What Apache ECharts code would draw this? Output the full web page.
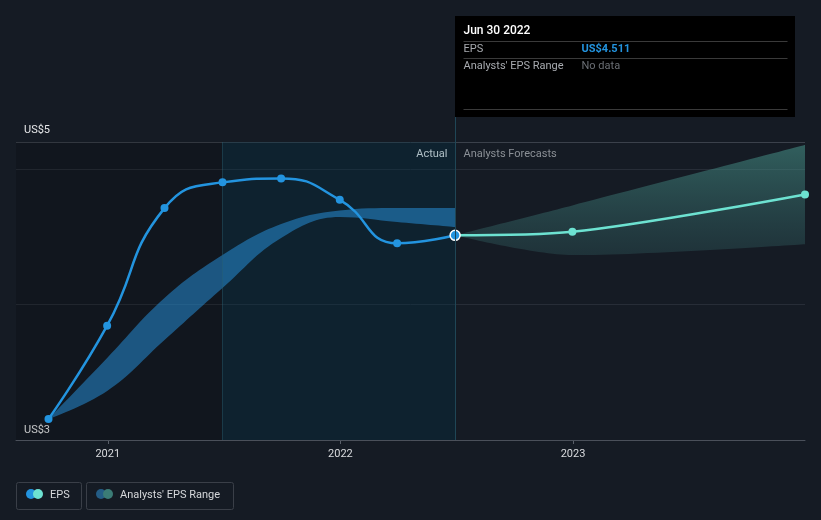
<!DOCTYPE html>
<html>
<head>
<meta charset="utf-8">
<script src="https://cdn.jsdelivr.net/npm/echarts@6/dist/echarts.min.js"></script>
<style>
  html, body { margin: 0; padding: 0; background: #151b24; }
  #chart { width: 821px; height: 520px; }
</style>
</head>
<body>
<div id="chart"></div>
<script>
// past quarters (reported EPS + range of past analyst estimates)
const actualDates = ["2020-09-30", "2020-12-31", "2021-03-31", "2021-06-30", "2021-09-30", "2021-12-31", "2022-03-31", "2022-06-30"];
const epsActual = [3.155, 3.844, 4.712, 4.902, 4.931, 4.773, 4.452, 4.511];
const pastRangeLow = [3.155, 3.362, 3.738, 4.122, 4.491, 4.646, 4.609, 4.572];
const pastRangeHigh = [3.155, 3.605, 4.048, 4.365, 4.594, 4.694, 4.712, 4.712];

// analyst forecasts
const forecastDates = ["2022-06-30", "2022-12-31", "2023-12-31"];
const epsForecast = [4.511, 4.537, 4.813];
const forecastLow = [4.511, 4.365, 4.446];
const forecastHigh = [4.511, 4.732, 5.177];

const yearTicks = ["2021-01-01", "2022-01-01", "2023-01-01"];
const axisStart = "2020-08-10";
const axisEnd = "2023-12-31";
const lastActual = "2022-06-30";
const ltmStart = "2021-06-30";

const FONT = "Roboto, 'Noto Sans', sans-serif";
const BLUE = "#2394df";
const AQUA = "#6de2d1";

const toTime = (s) => {
  const [y, m, d] = s.split("-").map(Number);
  return new Date(y, m - 1, d).getTime();
};
const pairs = (dates, vals) => dates.map((d, i) => [toTime(d), vals[i]]);
const diffs = (dates, hi, lo) => dates.map((d, i) => [toTime(d), +(hi[i] - lo[i]).toFixed(4)]);
const yearStarts = yearTicks.map(toTime);

const chart = echarts.init(document.getElementById("chart"));

const bandBase = {
  type: "line",
  smooth: 0.4,
  symbol: "none",
  lineStyle: { opacity: 0 },
  silent: true,
};

chart.setOption({
  backgroundColor: "#151b24",
  animation: false,
  textStyle: { fontFamily: FONT },
  grid: { left: 16, right: 16, top: 142, bottom: 80 },
  xAxis: {
    type: "time",
    min: toTime(axisStart),
    max: toTime(axisEnd),
    axisLine: { show: true, lineStyle: { color: "#4a505a", width: 1 } },
    axisTick: { show: false },
    axisLabel: {
      color: "#d9dbde",
      fontSize: 11,
      margin: 9,
      hideOverlap: false,
      formatter: (v) => (yearStarts.indexOf(+v) >= 0 ? String(new Date(+v).getFullYear()) : ""),
    },
    splitLine: { show: false },
  },
  yAxis: {
    type: "value",
    min: 3,
    max: 5.2,
    interval: 1,
    axisLine: { show: false },
    axisTick: { show: false },
    axisLabel: { show: false },
    splitLine: {
      show: true,
      lineStyle: { color: ["#4a505a", "#272d37", "#272d37", "#3b414b"], width: 1 },
    },
  },
  series: [
    Object.assign({}, bandBase, {
      name: "pastLow",
      stack: "past",
      data: pairs(actualDates, pastRangeLow),
    }),
    Object.assign({}, bandBase, {
      name: "Analysts' EPS Range",
      stack: "past",
      areaStyle: { color: "rgba(38,140,212,0.55)", opacity: 1 },
      data: diffs(actualDates, pastRangeHigh, pastRangeLow),
    }),
    Object.assign({}, bandBase, {
      name: "fcLow",
      stack: "fc",
      smooth: 0.3,
      data: pairs(forecastDates, forecastLow),
    }),
    Object.assign({}, bandBase, {
      name: "Forecast Range",
      stack: "fc",
      smooth: 0.3,
      areaStyle: {
        opacity: 1,
        color: {
          type: "linear", x: 0, y: 0, x2: 0, y2: 1,
          colorStops: [
            { offset: 0, color: "rgba(72,150,140,0.55)" },
            { offset: 1, color: "rgba(60,120,120,0.25)" },
          ],
        },
      },
      data: diffs(forecastDates, forecastHigh, forecastLow),
    }),
    {
      name: "EPS forecast",
      type: "line",
      smooth: 0.3,
      z: 4,
      symbol: "circle",
      symbolSize: 8,
      lineStyle: { color: AQUA, width: 2.5 },
      itemStyle: { color: AQUA },
      data: pairs(forecastDates, epsForecast).map((p, i) =>
        i === 0 ? { value: p, symbol: "none" } : { value: p }
      ),
    },
    {
      name: "EPS",
      type: "line",
      smooth: 0.5,
      z: 5,
      symbol: "circle",
      symbolSize: 8,
      lineStyle: { color: BLUE, width: 2.5 },
      itemStyle: { color: BLUE },
      data: pairs(actualDates, epsActual).map((p, i, arr) =>
        i === arr.length - 1
          ? { value: p, symbolSize: 10, itemStyle: { color: BLUE, borderColor: "#ffffff", borderWidth: 1.5 } }
          : { value: p }
      ),
      markArea: {
        silent: true,
        data: [
          [
            { xAxis: toTime(axisStart), itemStyle: { color: "rgba(0,0,0,0.15)" } },
            { xAxis: toTime(ltmStart) },
          ],
          [
            { xAxis: toTime(ltmStart), itemStyle: { color: "rgba(0,50,70,0.32)" } },
            { xAxis: toTime(lastActual) },
          ],
        ],
      },
      markLine: {
        silent: true,
        symbol: "none",
        label: { show: false },
        lineStyle: { color: "rgba(40,95,115,0.45)", width: 1, type: "solid" },
        data: [{ xAxis: toTime(ltmStart) }],
      },
    },
  ],
});

// overlay: divider, tooltip panel, labels, legend, year ticks
const xPix = (t) => chart.convertToPixel({ xAxisIndex: 0 }, t);
const xNow = Math.round(xPix(toTime(lastActual))) + 0.5;
const yTop = chart.convertToPixel({ yAxisIndex: 0 }, 5.2);
const yBottom = chart.convertToPixel({ yAxisIndex: 0 }, 3);
const tipTop = 16, tipBottom = 117, tipW = 340;

const txt = (x, y, text, color, size, extra) => ({
  type: "text",
  x, y,
  silent: true,
  style: Object.assign({ text, fill: color, font: `${size}px ${FONT}`, textVerticalAlign: "middle" }, extra || {}),
});
const hline = (x1, x2, y, color) => ({
  type: "line",
  silent: true,
  shape: { x1, y1: y + 0.5, x2, y2: y + 0.5 },
  style: { stroke: color, lineWidth: 1 },
});
const legendBox = (x, w) => ({
  type: "rect",
  silent: true,
  shape: { x: x + 0.5, y: 482.5, width: w, height: 27, r: 2 },
  style: { fill: "transparent", stroke: "#3a3f48", lineWidth: 1 },
});
const dot = (cx, color) => ({
  type: "circle",
  silent: true,
  shape: { cx, cy: 494, r: 5 },
  style: { fill: color },
});
const tick = (t) => {
  const x = Math.round(xPix(t)) + 0.5;
  return {
    type: "line",
    silent: true,
    shape: { x1: x, y1: yBottom, x2: x, y2: yBottom + 4 },
    style: { stroke: "#5a606a", lineWidth: 1 },
  };
};

chart.setOption({
  graphic: [
    ...yearStarts.map(tick),
    {
      type: "line",
      silent: true,
      z: 10,
      shape: { x1: xNow, y1: tipBottom, x2: xNow, y2: yBottom },
      style: { stroke: "#1f4656", lineWidth: 1 },
    },
    {
      type: "rect",
      silent: true,
      shape: { x: xNow - 0.5, y: tipTop, width: tipW, height: tipBottom - tipTop },
      style: { fill: "#000000" },
    },
    txt(xNow + 8, 31, "Jun 30 2022", "#ffffff", 12, { font: `500 12px ${FONT}` }),
    hline(xNow + 8, xNow + tipW - 8, 41, "#3a3a3a"),
    txt(xNow + 8, 49, "EPS", "#a8abb0", 11),
    txt(xNow + 126, 49, "US$4.511", BLUE, 11, { font: `bold 11px ${FONT}` }),
    hline(xNow + 8, xNow + tipW - 8, 58, "#3a3a3a"),
    txt(xNow + 8, 66, "Analysts' EPS Range", "#a8abb0", 11),
    txt(xNow + 126, 66, "No data", "#6b6f75", 11),
    hline(xNow + 8, xNow + tipW - 8, 109, "#3a3a3a"),

    txt(xNow - 8, yTop + 12, "Actual", "#ffffff", 11, { textAlign: "right" }),
    txt(xNow + 8, yTop + 12, "Analysts Forecasts", "#8b9096", 11),

    txt(24, yTop - 12, "US$5", "#e6e7e9", 11),
    txt(24, yBottom - 10, "US$3", "#e6e7e9", 11),

    legendBox(16, 65),
    dot(31, BLUE),
    dot(38, AQUA),
    txt(50, 495, "EPS", "#d6d8db", 11),
    legendBox(86, 147),
    dot(101, "#245d86"),
    dot(108, "#3b7c76"),
    txt(120, 495, "Analysts' EPS Range", "#d6d8db", 11),
  ],
});
</script>
</body>
</html>
